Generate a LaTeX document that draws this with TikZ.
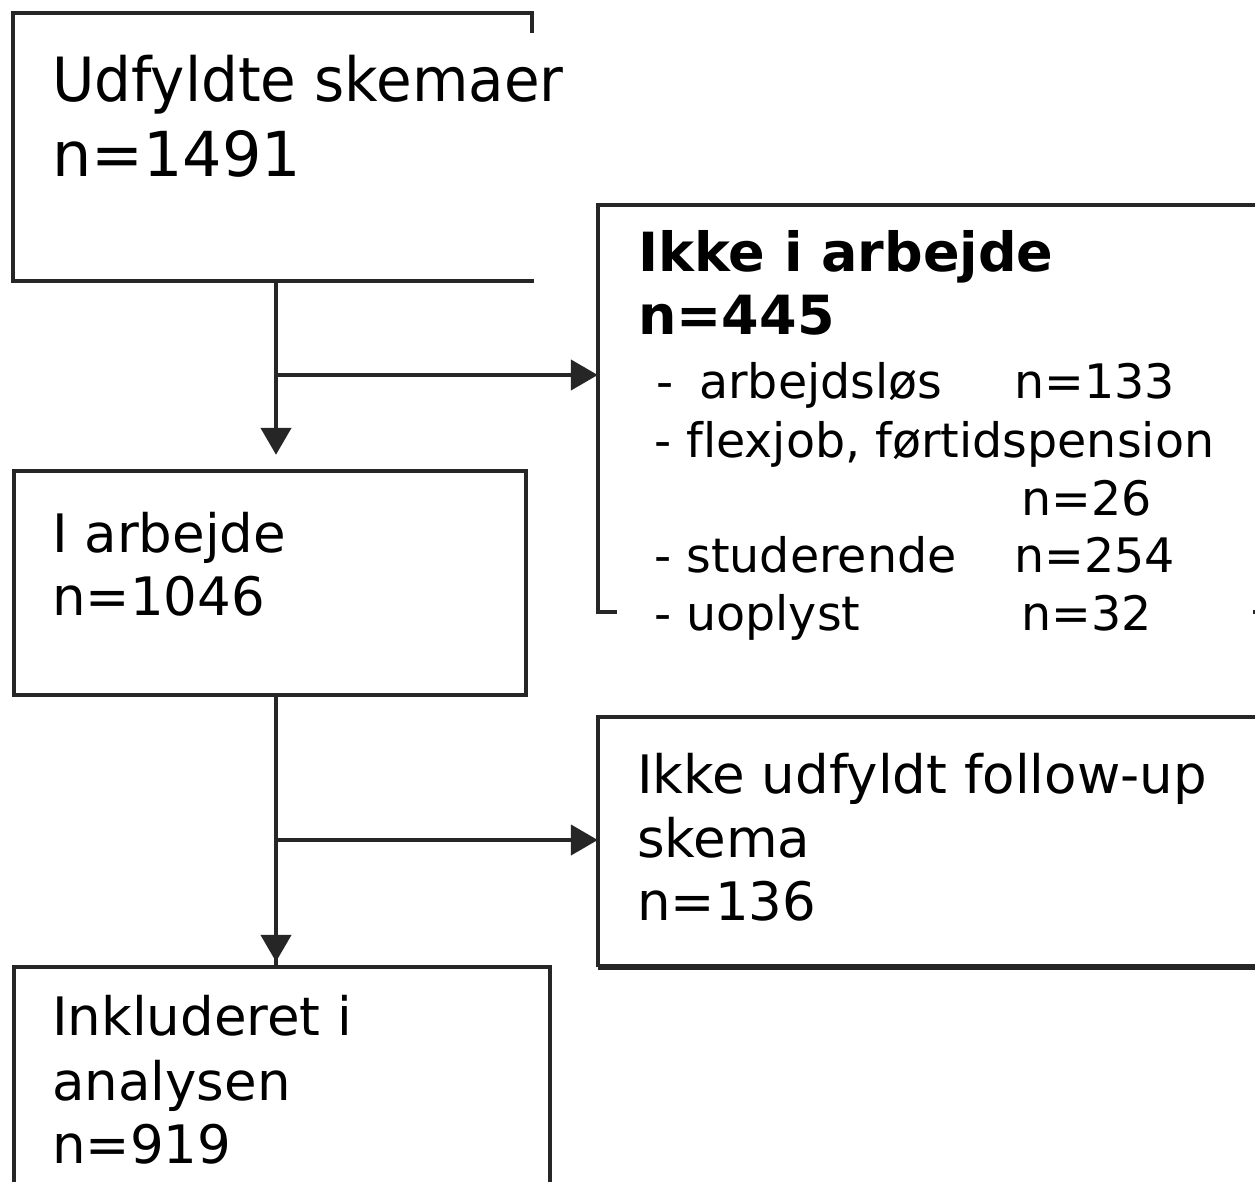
\documentclass[tikz,border=0pt]{standalone}
\usepackage{fontspec}
\setmainfont[Ligatures=NoCommon]{DejaVu Sans}
\newfontfamily\condfont[FakeStretch=0.95,Ligatures=NoCommon]{DejaVu Sans}
\usetikzlibrary{arrows.meta}
\definecolor{linegray}{HTML}{262626}
\begin{document}
\begin{tikzpicture}[x=1pt,y=-1pt,
  boxarea/.style={draw=none, inner sep=0pt, rectangle},
  border/.style={line width=4pt, draw=linegray},
  conn/.style={line width=4.5pt, draw=linegray},
  arr/.style={-{Triangle[length=27pt,width=30pt]}},
  txt/.style={anchor=base west, inner sep=0pt, text=black},
  ftop/.style={font=\fontsize{62}{62}\selectfont},
  fmid/.style={font=\fontsize{53}{53}\selectfont},
  fbold/.style={font=\bfseries\fontsize{54}{54}\selectfont},
  flist/.style={font=\fontsize{47.5}{47.5}\selectfont}]
\useasboundingbox (0,0) rectangle (1255,1182);
\clip (0,0) rectangle (1255,1182);

% box areas
\node[boxarea, minimum width=519pt, minimum height=268pt] (b1) at (272.5,147) {};
\node[boxarea, minimum width=512pt, minimum height=224pt] (b2) at (270,583) {};
\node[boxarea, minimum width=702pt, minimum height=407pt] (b3) at (949,408.5) {};
\node[boxarea, minimum width=702pt, minimum height=250pt] (b4) at (949,842) {};
\node[boxarea, minimum width=536pt, minimum height=283pt] (b5) at (282,1108.5) {};

% borders
\draw[border] ([yshift=-20pt]b1.north east) -- (b1.north east) -- (b1.north west) -- (b1.south west) -- ([xshift=2pt]b1.south east);
\draw[border] (b2.north west) rectangle (b2.south east);
\draw[border] (b3.north east) -- (b3.north west) -- (b3.south west) -- ([xshift=19pt]b3.south west);
\coordinate (b3mark) at (1253,612);
\draw[border] (b3mark) -- ++(6,0);
\draw[border] (b4.south west) -- (b4.north west) -- (b4.north east);
\draw[line width=6pt, draw=linegray] (b4.south west) -- (b4.south east);
\draw[border] (b5.north west) rectangle (b5.south east);

% junctions
\coordinate (j1) at (276,375);
\coordinate (j2) at (276,840);

% connectors
\draw[conn, arr, shorten >=16pt] (b1.south -| j1) -- (b2.north -| j1);
\draw[conn, arr] (j1) -- (j1 -| b3.west);
\draw[conn] (b2.south -| j2) -- (b5.north -| j2);
\draw[conn, arr, shorten >=5pt] (j2) -- (b5.north -| j2);
\draw[conn, arr] (j2) -- (j2 -| b4.west);

% texts
\node[txt, font=\condfont\fontsize{61}{61}\selectfont] (t1a) at (52,102) {Udfyldte skemaer};
\node[txt, ftop] (t1b) at (52,177) {n=1491};

\node[txt, fmid] (t2a) at (52,552) {I arbejde};
\node[txt, fmid] (t2b) at (52,615) {n=1046};

\node[txt, fbold] (t3a) at (638,272) {Ikke i arbejde};
\node[txt, fbold] (t3b) at (638,334) {n=445};
\node[txt, flist] (t3c) at (656,398) {-};
\node[txt, flist] (t3d) at (699,398) {arbejdsløs};
\node[txt, flist] (t3e) at (1014,398) {n=133};
\node[txt, flist] (t3f) at (654,457) {- flexjob, førtidspension};
\node[txt, flist] (t3g) at (1021,515) {n=26};
\node[txt, flist] (t3h) at (654,572) {- studerende};
\node[txt, flist] (t3i) at (1014,572) {n=254};
\node[txt, flist] (t3j) at (654,630) {- uoplyst};
\node[txt, flist] (t3k) at (1021,630) {n=32};

\node[txt, fmid] (t4a) at (637,793) {Ikke udfyldt follow-up};
\node[txt, fmid] (t4b) at (637,857) {skema};
\node[txt, fmid] (t4c) at (637,920) {n=136};

\node[txt, fmid] (t5a) at (52,1035) {Inkluderet i};
\node[txt, fmid] (t5b) at (52,1100) {analysen};
\node[txt, fmid] (t5c) at (52,1163) {n=919};
\end{tikzpicture}
\end{document}
